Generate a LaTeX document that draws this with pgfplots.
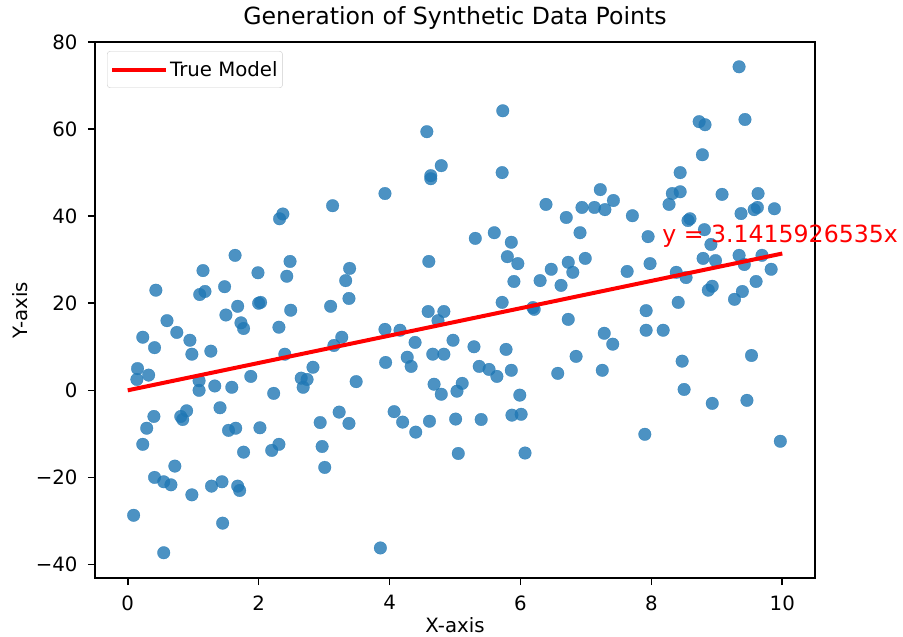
\documentclass[border=0pt]{standalone}
\usepackage{pgfplots}
\pgfplotsset{compat=1.18}
\usepackage{fontspec}
\setmainfont{DejaVu Sans}
\definecolor{mplblue}{HTML}{1F77B4}
\begin{document}
\begin{tikzpicture}
\useasboundingbox (-95bp,-59bp) rectangle (808bp,578bp);
\begin{axis}[
  at={(0,0)}, anchor=south west,
  scale only axis, width=720bp, height=536bp,
  xmin=-0.5, xmax=10.5, ymin=-43.1, ymax=80.0,
  xtick={0,2,4,6,8,10}, ytick={-40,-20,0,20,40,60,80},
  yticklabels={−40,−20,0,20,40,60,80},
  xtick pos=bottom, ytick pos=left,
  tick align=outside, major tick length=7bp,
  every tick/.style={black, line width=1.6bp},
  axis line style={black, line width=1.6bp},
  minor tick num=0,
  /pgf/number format/assume math mode=true,
  tick label style={font=\fontsize{19.8pt}{24pt}\selectfont, black},
  xticklabel style={anchor=north, yshift=-7bp},
  yticklabel style={anchor=east, xshift=-7bp},
  title={Generation of Synthetic Data Points},
  title style={font=\fontsize{23.7pt}{28pt}\selectfont, at={(axis description cs:0.5,1.0224)}, anchor=base},
  xlabel={X-axis}, ylabel={Y-axis},
  label style={font=\fontsize{19.8pt}{24pt}\selectfont},
  xlabel style={at={(axis description cs:0.5,-0.102)}, anchor=base},
  ylabel style={at={(axis description cs:-0.0944,0.5)}, anchor=base},
  clip mode=individual,
  legend style={at={(axis description cs:0.0167,0.983)}, anchor=north west,
    draw=black!20, rounded corners=3bp, font=\fontsize{19.8pt}{24pt}\selectfont,
    inner xsep=3bp, inner ysep=8bp},
  legend cell align=left,
  legend image code/.code={\draw[red, line width=4bp] (0bp,0bp) -- (41bp,0bp); \path (0bp,0bp) -- (54bp,0bp);},
]
\addplot[only marks, mark=*, mark size=6.3bp,
  mark options={fill=mplblue, draw=mplblue, line width=0.3bp, opacity=0.8},
  forget plot] table {
x y
0.09 -28.7
0.14 2.5
0.15 5.0
0.23 12.2
0.23 -12.4
0.29 -8.7
0.32 3.5
0.40 -6.0
0.41 9.8
0.43 23.0
0.41 -20.0
0.55 -21.0
0.55 -37.3
0.60 16.0
0.66 -21.7
0.72 -17.4
0.75 13.3
0.81 -6.0
0.84 -6.7
0.90 -4.7
0.95 11.5
0.98 8.3
0.98 -24.0
1.09 2.2
1.09 0.0
1.10 22.0
1.15 27.5
1.18 22.7
1.27 9.0
1.28 -22.0
1.33 1.0
1.41 -4.0
1.44 -21.0
1.45 -30.5
1.50 17.3
1.48 23.8
1.54 -9.2
1.59 0.7
1.64 31.0
1.65 -8.7
1.68 19.3
1.68 -22.0
1.71 -23.0
1.73 15.5
1.77 14.2
1.77 -14.2
1.88 3.2
1.99 27.0
2.00 20.0
2.02 -8.6
2.03 20.2
2.20 -13.8
2.23 -0.7
2.31 14.5
2.31 -12.4
2.32 39.4
2.37 40.5
2.40 8.3
2.43 26.2
2.49 18.4
2.48 29.6
2.65 2.8
2.68 0.7
2.74 2.5
2.83 5.3
2.94 -7.4
2.97 -12.9
3.01 -17.7
3.10 19.3
3.13 42.4
3.15 10.3
3.23 -5.0
3.27 12.2
3.33 25.2
3.38 -7.6
3.38 21.1
3.39 28.0
3.49 2.0
3.86 -36.2
3.93 45.2
3.93 14.0
3.94 6.4
4.07 -4.9
4.16 13.8
4.20 -7.3
4.27 7.6
4.33 5.5
4.39 11.0
4.40 -9.6
4.59 18.1
4.60 29.6
4.61 -7.1
4.57 59.4
4.63 49.3
4.63 48.6
4.66 8.3
4.68 1.4
4.74 16.0
4.79 51.6
4.79 -0.9
4.83 8.3
4.83 18.1
4.97 11.5
5.03 -0.2
5.05 -14.5
5.11 1.6
5.01 -6.6
5.29 10.0
5.31 34.9
5.37 5.5
5.40 -6.7
5.52 4.8
5.60 36.2
5.64 3.2
5.72 20.2
5.72 50.0
5.73 64.2
5.78 9.4
5.80 30.7
5.86 34.0
5.86 4.6
5.87 -5.7
5.90 25.0
5.96 29.1
5.99 -1.1
6.01 -5.5
6.07 -14.4
6.19 19.0
6.21 18.6
6.30 25.2
6.39 42.7
6.47 27.8
6.57 3.9
6.62 24.1
6.70 39.7
6.73 16.3
6.73 29.4
6.80 27.1
6.85 7.8
6.91 36.2
6.94 42.0
6.99 30.3
7.13 42.0
7.22 46.1
7.25 4.6
7.28 13.1
7.29 41.5
7.41 10.6
7.42 43.6
7.63 27.3
7.71 40.1
7.90 -10.1
7.92 13.8
7.92 18.3
7.95 35.3
7.98 29.1
8.18 13.8
8.27 42.7
8.32 45.2
8.38 27.1
8.41 20.2
8.44 50.0
8.44 45.6
8.47 6.7
8.50 0.2
8.53 25.9
8.56 39.0
8.59 39.4
8.73 61.7
8.78 54.1
8.79 30.3
8.81 36.9
8.82 61.0
8.87 23.0
8.91 33.5
8.93 23.9
8.93 -3.0
8.98 29.8
9.08 45.0
9.27 20.9
9.34 74.3
9.34 31.0
9.37 40.6
9.39 22.7
9.42 28.9
9.43 62.2
9.46 -2.3
9.53 8.0
9.57 41.5
9.60 25.0
9.62 42.0
9.63 45.2
9.69 31.0
9.83 27.8
9.88 41.7
9.97 -11.7
};
\addplot[red, line width=4bp] coordinates {(0,0) (10,31.415926535)};
\addlegendentry{True Model\hspace{5bp}}
\node[anchor=west, inner sep=0, text=red, font=\fontsize{23.7pt}{28pt}\selectfont] at (axis cs:8.165,35.5) {y = 3.1415926535x};
\end{axis}
\end{tikzpicture}
\end{document}
